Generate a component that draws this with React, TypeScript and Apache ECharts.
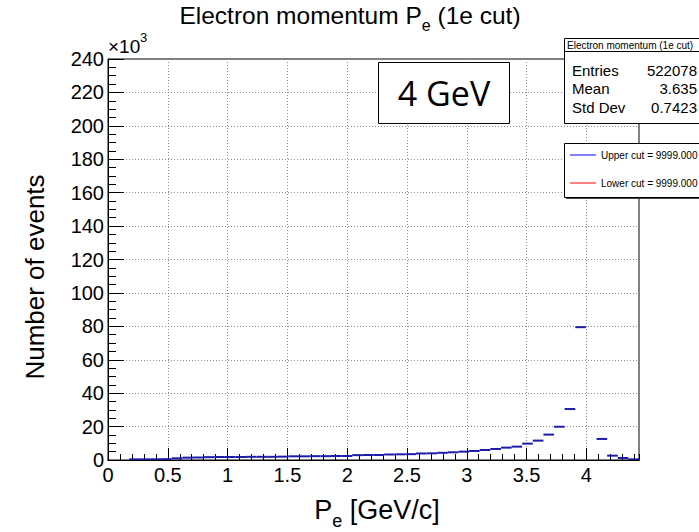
import React, { useEffect, useRef } from 'react';
import * as echarts from 'echarts';

// Histogram binning: 50 equal bins on [0, 4.44] GeV/c
const X_MIN = 0;
const X_MAX = 4.44;
const N_BINS = 50;

// Bin contents in units of 10^3 events (null = empty bin, nothing drawn)
const binCounts: (number | null)[] = [
  null, null, 0.4, 0.4, 0.45, 0.5, 1.0, 1.4, 1.5, 1.7,
  1.8, 1.8, 1.8, 1.9, 1.9, 1.9, 2.0, 2.2, 2.2, 2.3,
  2.3, 2.4, 2.4, 2.9, 3.0, 3.0, 3.3, 3.4, 3.5, 3.9,
  4.0, 4.3, 4.6, 5.0, 5.4, 6.0, 6.6, 7.4, 8.0, 9.8,
  11.6, 15.2, 19.9, 30.5, 79.5, null, 12.6, 2.6, 1.2, 0.4,
];

const statsTitle = 'Electron momentum (1e cut)';
const statsLabels = ['Entries', 'Mean', 'Std Dev'];
const statsValues = ['522078', '3.635', '0.7423'];

const legendLabels = ['Upper cut = 9999.000', 'Lower cut = 9999.000'];
const legendColors = ['#0000ff', '#ff0000'];

const beamLabel = '4 GeV';

const FONT = '"Liberation Sans", Arial, Helvetica, sans-serif';
const HIST_COLOR = '#1c1ca8';

export default function App() {
  const ref = useRef<HTMLDivElement>(null);

  useEffect(() => {
    if (!ref.current) return;
    const chart = echarts.init(ref.current, undefined, { renderer: 'svg' });

    const binWidth = (X_MAX - X_MIN) / N_BINS;
    const histData: number[][] = [];
    binCounts.forEach((c, i) => {
      if (c === null) return;
      histData.push([X_MIN + i * binWidth, X_MIN + (i + 1) * binWidth, c]);
    });

    const gridLine = { show: true, lineStyle: { color: '#8c8c8c', type: [1, 2] as any, width: 1 } };
    const axisLine = { show: true, lineStyle: { color: '#000', width: 1 } };

    const statsGraphics: any[] = [
      {
        type: 'rect',
        shape: { x: 564.5, y: 38.5, width: 150, height: 85 },
        style: { fill: '#fff', stroke: '#000', lineWidth: 1 },
        z: 10,
      },
      {
        type: 'line',
        shape: { x1: 564, y1: 51.5, x2: 699, y2: 51.5 },
        style: { stroke: '#000', lineWidth: 1 },
        z: 11,
      },
      {
        type: 'text',
        x: 567,
        y: 45,
        style: { text: statsTitle, font: `10px ${FONT}`, fill: '#000', verticalAlign: 'middle' },
        z: 11,
      },
    ];
    statsLabels.forEach((lab, i) => {
      const y = 70 + i * 18.5;
      statsGraphics.push({
        type: 'text',
        x: 572,
        y,
        style: { text: lab, font: `15px ${FONT}`, fill: '#000', verticalAlign: 'middle' },
        z: 11,
      });
      statsGraphics.push({
        type: 'text',
        x: 697,
        y,
        style: { text: statsValues[i], font: `15px ${FONT}`, fill: '#000', verticalAlign: 'middle', align: 'right' },
        z: 11,
      });
    });

    const legendGraphics: any[] = [
      {
        type: 'rect',
        shape: { x: 566, y: 145, width: 150, height: 54 },
        style: { fill: '#444' },
        z: 9,
      },
      {
        type: 'rect',
        shape: { x: 564.5, y: 143.5, width: 150, height: 54 },
        style: { fill: '#fff', stroke: '#000', lineWidth: 1 },
        z: 10,
      },
    ];
    legendLabels.forEach((lab, i) => {
      const y = 155 + i * 28;
      legendGraphics.push({
        type: 'line',
        shape: { x1: 570, y1: y, x2: 596, y2: y },
        style: { stroke: legendColors[i], lineWidth: 1 },
        z: 11,
      });
      legendGraphics.push({
        type: 'text',
        x: 601,
        y,
        style: { text: lab, font: `10px ${FONT}`, fill: '#000', verticalAlign: 'middle' },
        z: 11,
      });
    });

    const option: echarts.EChartsOption = {
      animation: false,
      backgroundColor: '#fff',
      grid: {
        left: 108,
        top: 59,
        right: 60,
        bottom: 72,
        show: true,
        borderColor: '#000',
        borderWidth: 1,
        backgroundColor: 'transparent',
      },
      xAxis: [
        {
          type: 'value',
          position: 'bottom',
          min: X_MIN,
          max: X_MAX,
          interval: 0.5,
          axisLine,
          axisTick: { show: true, inside: true, length: 12, lineStyle: { color: '#000' } },
          axisLabel: {
            show: true,
            showMaxLabel: false,
            color: '#000',
            fontSize: 20,
            fontFamily: FONT,
            margin: 5,
            formatter: (v: number) => String(v),
          },
          splitLine: gridLine,
        },
        {
          type: 'value',
          position: 'bottom',
          min: X_MIN,
          max: X_MAX,
          interval: 0.1,
          axisLine,
          axisTick: { show: true, inside: true, length: 6, lineStyle: { color: '#000' } },
          axisLabel: { show: false },
          splitLine: { show: false },
        },
      ],
      yAxis: {
        type: 'value',
        min: 0,
        max: 240,
        interval: 20,
        axisLine,
        axisTick: { show: true, inside: true, length: 16, lineStyle: { color: '#000' } },
        minorTick: { show: true, splitNumber: 4, length: 8, lineStyle: { color: '#000' } },
        axisLabel: { color: '#000', fontSize: 20, fontFamily: FONT, margin: 4 },
        splitLine: gridLine,
      },
      series: [
        {
          type: 'custom',
          xAxisIndex: 0,
          yAxisIndex: 0,
          clip: true,
          encode: { x: [0, 1], y: 2 },
          data: histData,
          renderItem: (_params: any, api: any) => {
            const lo = api.value(0);
            const hi = api.value(1);
            const v = api.value(2);
            const p0 = api.coord([lo, v]);
            const p1 = api.coord([hi, v]);
            return {
              type: 'line',
              shape: { x1: p0[0], y1: p0[1], x2: p1[0], y2: p1[1] },
              style: { stroke: HIST_COLOR, lineWidth: 2 },
            };
          },
        } as any,
      ],
      graphic: [
        // histogram title
        {
          type: 'text',
          x: 350,
          y: 3,
          style: {
            text: '{a|Electron momentum P}{s|e}{a| (1e cut)}',
            align: 'center',
            fill: '#000',
            rich: {
              a: { fontSize: 24.5, fontFamily: FONT, lineHeight: 28, verticalAlign: 'top' },
              s: { fontSize: 16, fontFamily: FONT, lineHeight: 18, padding: [14, 0, 0, 0], verticalAlign: 'top' },
            },
          } as any,
        },
        // y-axis exponent
        {
          type: 'text',
          x: 108,
          y: 37,
          style: { text: '×10', font: `19px ${FONT}`, fill: '#000' },
        },
        {
          type: 'text',
          x: 140,
          y: 31,
          style: { text: '3', font: `13px ${FONT}`, fill: '#000' },
        },
        // axis titles
        {
          type: 'text',
          x: 35,
          y: 277,
          rotation: Math.PI / 2,
          style: {
            text: 'Number of events',
            font: `26px ${FONT}`,
            fill: '#000',
            align: 'center',
            verticalAlign: 'middle',
          },
        },
        {
          type: 'text',
          x: 377,
          y: 496,
          style: {
            text: '{a|P}{s|e}{a| [GeV/c]}',
            align: 'center',
            fill: '#000',
            rich: {
              a: { fontSize: 27, fontFamily: FONT, lineHeight: 32, verticalAlign: 'top' },
              s: { fontSize: 18, fontFamily: FONT, lineHeight: 20, padding: [16, 0, 0, 0], verticalAlign: 'top' },
            },
          } as any,
        },
        // beam energy box
        {
          type: 'rect',
          shape: { x: 378.5, y: 62.5, width: 131, height: 61 },
          style: { fill: '#fff', stroke: '#000', lineWidth: 1 },
          z: 10,
        },
        {
          type: 'text',
          x: 444,
          y: 93,
          style: {
            text: beamLabel,
            font: `34px "Open Sans", "Noto Sans", sans-serif`,
            fill: '#000',
            align: 'center',
            verticalAlign: 'middle',
          },
          z: 11,
        },
        ...statsGraphics,
        ...legendGraphics,
      ],
    };

    chart.setOption(option);
    return () => chart.dispose();
  }, []);

  return (
    <div
      ref={ref}
      style={{ position: 'fixed', left: 0, top: 0, width: 699, height: 532, background: '#fff' }}
    />
  );
}
